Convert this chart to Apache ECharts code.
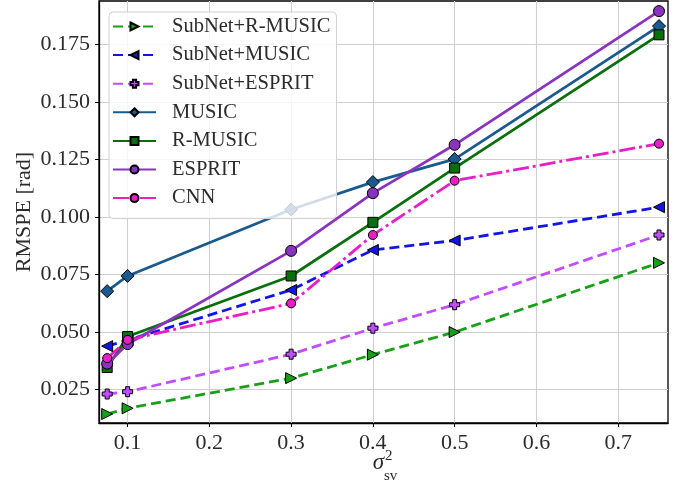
<!DOCTYPE html>
<html><head><meta charset="utf-8">
<script src="https://cdn.jsdelivr.net/npm/echarts@6/dist/echarts.min.js"></script>
<style>html,body{margin:0;padding:0;background:#fff}#c{width:679px;height:489px}</style>
</head><body><div id="c"></div>
<script>
const xValues = [0.075, 0.1, 0.3, 0.4, 0.5, 0.75];
const xTicks = [0.1, 0.2, 0.3, 0.4, 0.5, 0.6, 0.7];
const yTicks = [0.025, 0.05, 0.075, 0.1, 0.125, 0.15, 0.175];
const seriesNames = ['SubNet+R-MUSIC', 'SubNet+MUSIC', 'SubNet+ESPRIT', 'MUSIC', 'R-MUSIC', 'ESPRIT', 'CNN'];
const subnetRMusic = [0.0144, 0.0169, 0.0300, 0.0402, 0.0500, 0.0801];
const subnetMusic  = [0.0439, 0.0465, 0.0683, 0.0857, 0.0898, 0.1043];
const subnetEsprit = [0.0231, 0.0241, 0.0404, 0.0517, 0.0619, 0.0922];
const music        = [0.0678, 0.0744, 0.1033, 0.1152, 0.1252, 0.1830];
const rMusic       = [0.0346, 0.0481, 0.0744, 0.0977, 0.1213, 0.1792];
const esprit       = [0.0363, 0.0448, 0.0853, 0.1104, 0.1314, 0.1895];
const cnn          = [0.0387, 0.0466, 0.0625, 0.0922, 0.1158, 0.1319];

const seriesData = [subnetRMusic, subnetMusic, subnetEsprit, music, rMusic, esprit, cnn];
const styles = [
  {color:'#17a017', dash:[10,5], symbol:'path://M0,0L10,5L0,10Z', size:11},
  {color:'#1414e8', dash:[10,5], symbol:'path://M10,0L0,5L10,10Z', size:11},
  {color:'#c24cff', dash:[10,5], symbol:'path://M3,0H7V3H10V7H7V10H3V7H0V3H3Z', size:10},
  {color:'#1a5a8f', dash:'solid', symbol:'diamond', size:13},
  {color:'#0a6e0a', dash:'solid', symbol:'rect', size:10},
  {color:'#8a33bf', dash:'solid', symbol:'circle', size:11},
  {color:'#e81ec6', dash:[16,4,3,4], symbol:'circle', size:9}
];
const txt = '#2b2b2b';
const font = '"Liberation Serif","Times New Roman",serif';

const chart = echarts.init(document.getElementById('c'));
chart.setOption({
  animation:false,
  backgroundColor:'#fff',
  grid:{left:99, right:11, top:1, bottom:66, show:true, borderColor:'#000', borderWidth:1.3, containLabel:false},
  xAxis:{type:'value', min:0.065, max:0.761,
    axisLine:{show:true, onZero:false, lineStyle:{color:'#000', width:1.3}},
    axisTick:{show:true, length:4, customValues:xTicks, lineStyle:{color:'#000'}},
    axisLabel:{customValues:xTicks, color:txt, fontFamily:font, fontSize:22, margin:9,
      formatter:v=>String(Math.round(v*10)/10)},
    splitLine:{show:true, lineStyle:{color:'#cfcfcf', width:1.1}}
  },
  yAxis:{type:'value', min:0.0105, max:0.1939,
    name:'RMSPE [rad]', nameLocation:'middle', nameGap:64, nameMoveOverlap:false,
    nameTextStyle:{color:txt, fontFamily:font, fontSize:22},
    axisLine:{show:true, onZero:false, lineStyle:{color:'#000', width:1.3}},
    axisTick:{show:true, length:4, customValues:yTicks, lineStyle:{color:'#000'}},
    axisLabel:{customValues:yTicks, color:txt, fontFamily:font, fontSize:22, margin:9,
      formatter:v=>v.toFixed(3)},
    splitLine:{show:true, lineStyle:{color:'#cfcfcf', width:1.1}}
  },
  legend:{orient:'vertical', left:109, top:12, itemWidth:43, itemHeight:10, itemGap:7.6,
    padding:[4,6,10,3], backgroundColor:'rgba(255,255,255,0.8)', borderColor:'#d0d0d0', borderWidth:1, borderRadius:4,
    textStyle:{color:txt, fontFamily:font, fontSize:20.5, lineHeight:21, padding:[0,0,0,11]},
    data:seriesNames},
  graphic:[
    {type:'text', x:384, y:474, style:{text:'σ', fill:txt, font:'italic 23px '+font, align:'right', verticalAlign:'bottom'}},
    {type:'text', x:385, y:464, style:{text:'2', fill:txt, font:'15px '+font, align:'left', verticalAlign:'bottom'}},
    {type:'text', x:384, y:484, style:{text:'sv', fill:txt, font:'15px '+font, align:'left', verticalAlign:'bottom'}}
  ],
  series: seriesNames.map((n,i)=>({
    name:n, type:'line',
    data: xValues.map((x,j)=>[x, seriesData[i][j]]),
    symbol: styles[i].symbol, symbolSize: styles[i].size, showSymbol:true,
    lineStyle:{color:styles[i].color, width:2.8, type:styles[i].dash},
    itemStyle:{color:styles[i].color, borderColor:'#000', borderWidth:1},
    emphasis:{disabled:true}
  }))
});
</script></body></html>
